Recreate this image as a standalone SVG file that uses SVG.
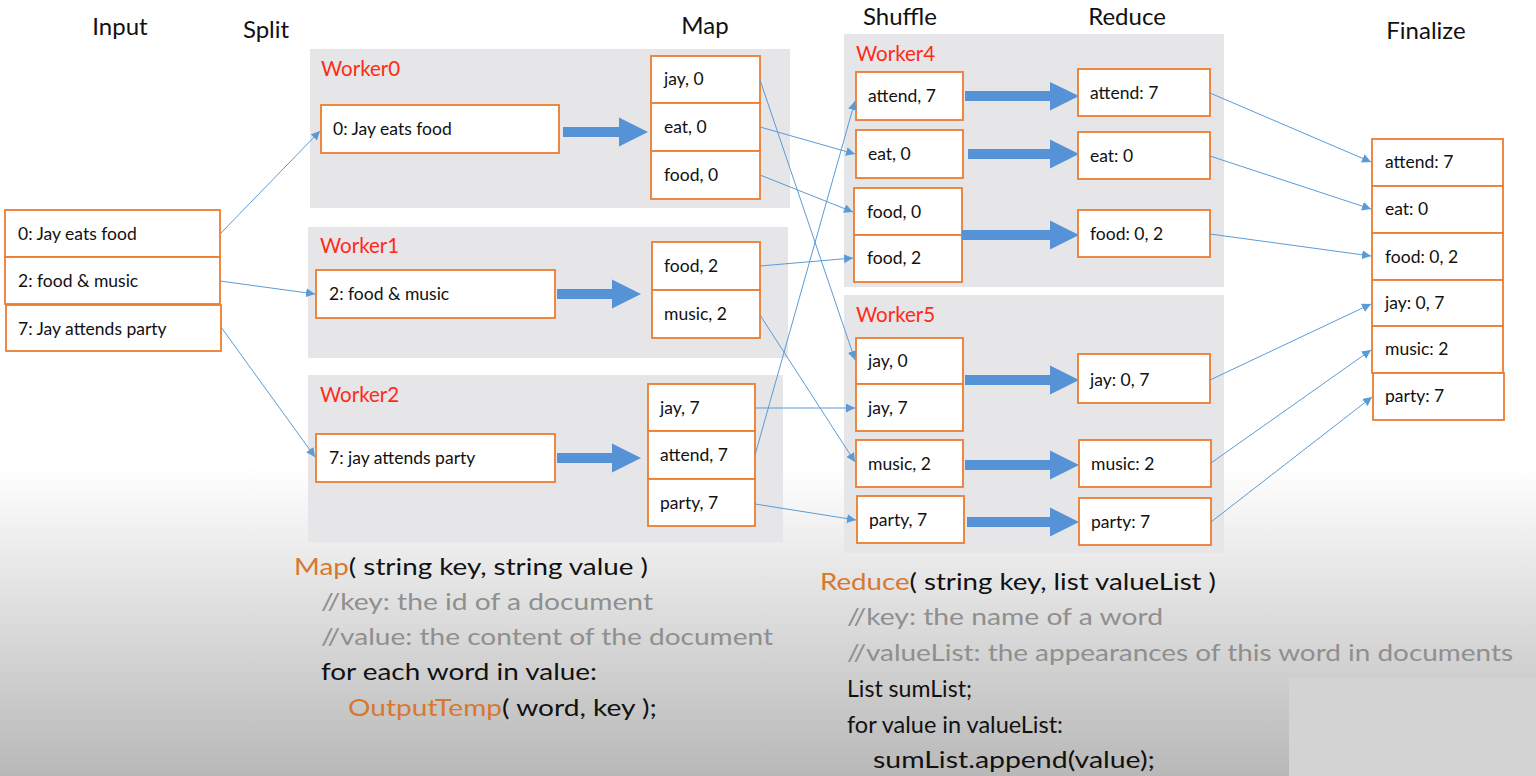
<svg xmlns="http://www.w3.org/2000/svg" width="1536" height="776" viewBox="0 0 1536 776">
<defs>
<linearGradient id="bg" x1="0" y1="0" x2="0" y2="1">
<stop offset="0" stop-color="#ffffff"/>
<stop offset="0.6" stop-color="#ffffff"/>
<stop offset="1" stop-color="#b8b8b8"/>
</linearGradient>
<marker id="ah" viewBox="0 0 10 10" refX="10" refY="5" markerWidth="9" markerHeight="9" markerUnits="userSpaceOnUse" orient="auto">
<path d="M0,0 L10,5 L0,10 z" fill="#5b9bd5"/>
</marker>
<style>
.title{font-family:Lato,"Open Sans",sans-serif;font-size:24px;fill:#111;text-anchor:middle}
.wk{font-family:Lato,"Open Sans",sans-serif;font-size:20.5px;fill:#ff2a17}
.panel{fill:#e6e5e8}
.box{fill:#ffffff;stroke:#ed7d31;stroke-width:1.8}
.bt{font-family:Lato,"Open Sans",sans-serif;font-size:17.5px;fill:#111}
.big{fill:#5592d6}
.thin{stroke:#5b9bd5;stroke-width:1;fill:none;marker-end:url(#ah)}
.code{font-family:Lato,"Open Sans",sans-serif;font-size:24px;fill:#111}
.kw{fill:#d8782f}
.cm{fill:#8f8f8f}
</style>
</defs>
<rect width="1536" height="776" fill="url(#bg)"/>
<rect x="1289" y="678" width="247" height="98" fill="#d3d3d3"/>

<g id="titles">
<text class="title" x="120" y="35">Input</text>
<text class="title" x="266" y="38">Split</text>
<text class="title" x="705" y="34">Map</text>
<text class="title" x="900" y="25">Shuffle</text>
<text class="title" x="1127" y="25">Reduce</text>
<text class="title" x="1426" y="39">Finalize</text>
</g>

<g id="input">
<rect class="box" x="5" y="210" width="215" height="47"/>
<text class="bt" x="18" y="240">0: Jay eats food</text>
<rect class="box" x="5" y="257" width="215" height="47"/>
<text class="bt" x="18" y="287">2: food &amp; music</text>
<rect class="box" x="6" y="305" width="215" height="46"/>
<text class="bt" x="18" y="335">7: Jay attends party</text>
</g>

<g id="worker0">
<rect class="panel" x="310" y="49" width="480" height="159"/>
<text class="wk" x="321" y="76">Worker0</text>
<rect class="box" x="321" y="105" width="238" height="48"/>
<text class="bt" x="333" y="135">0: Jay eats food</text>
<polygon class="big" points="563,127 619,127 619,117.5 648,132 619,146.5 619,137 563,137"/>
<rect class="box" x="651" y="56" width="109" height="47"/>
<text class="bt" x="664" y="85">jay, 0</text>
<rect class="box" x="651" y="103" width="109" height="48"/>
<text class="bt" x="664" y="133">eat, 0</text>
<rect class="box" x="651" y="151" width="109" height="48"/>
<text class="bt" x="664" y="181">food, 0</text>
</g>

<g id="worker1">
<rect class="panel" x="308" y="227" width="480" height="131"/>
<text class="wk" x="320" y="253">Worker1</text>
<rect class="box" x="316" y="270" width="239" height="48"/>
<text class="bt" x="329" y="300">2: food &amp; music</text>
<polygon class="big" points="557,289 612,289 612,279.5 641,294 612,308.5 612,299 557,299"/>
<rect class="box" x="652" y="242" width="108" height="48"/>
<text class="bt" x="664" y="272">food, 2</text>
<rect class="box" x="652" y="290" width="108" height="48"/>
<text class="bt" x="664" y="320">music, 2</text>
</g>

<g id="worker2">
<rect class="panel" x="308" y="375" width="475" height="167"/>
<text class="wk" x="320" y="402">Worker2</text>
<rect class="box" x="316" y="434" width="239" height="48"/>
<text class="bt" x="329" y="464">7: jay attends party</text>
<polygon class="big" points="557,453 612,453 612,443.5 641,458 612,472.5 612,463 557,463"/>
<rect class="box" x="648" y="384" width="107" height="47"/>
<text class="bt" x="660" y="414">jay, 7</text>
<rect class="box" x="648" y="431" width="107" height="48"/>
<text class="bt" x="660" y="461">attend, 7</text>
<rect class="box" x="648" y="479" width="107" height="47"/>
<text class="bt" x="660" y="509">party, 7</text>
</g>

<g id="worker4">
<rect class="panel" x="844" y="34" width="380" height="253"/>
<text class="wk" x="856" y="61">Worker4</text>
<rect class="box" x="856" y="72" width="107" height="48"/>
<text class="bt" x="868" y="102">attend, 7</text>
<rect class="box" x="856" y="130" width="107" height="48"/>
<text class="bt" x="868" y="160">eat, 0</text>
<rect class="box" x="854" y="188" width="108" height="47"/>
<text class="bt" x="867" y="218">food, 0</text>
<rect class="box" x="854" y="235" width="108" height="47"/>
<text class="bt" x="867" y="264">food, 2</text>
<polygon class="big" points="965,91 1050,91 1050,82 1079,96 1050,110.5 1050,101 965,101"/>
<polygon class="big" points="968,149 1050,149 1050,139.5 1079,154 1050,168.5 1050,159 968,159"/>
<polygon class="big" points="962,230 1050,230 1050,220.5 1079,235 1050,249.5 1050,240 962,240"/>
<rect class="box" x="1078" y="69" width="132" height="47"/>
<text class="bt" x="1090" y="99">attend: 7</text>
<rect class="box" x="1078" y="132" width="132" height="47"/>
<text class="bt" x="1090" y="162">eat: 0</text>
<rect class="box" x="1078" y="210" width="132" height="47"/>
<text class="bt" x="1090" y="240">food: 0, 2</text>
</g>

<g id="worker5">
<rect class="panel" x="844" y="295" width="380" height="258"/>
<text class="wk" x="856" y="322">Worker5</text>
<rect class="box" x="856" y="338" width="107" height="46"/>
<text class="bt" x="868" y="367">jay, 0</text>
<rect class="box" x="856" y="384" width="107" height="47"/>
<text class="bt" x="868" y="414">jay, 7</text>
<rect class="box" x="856" y="440" width="107" height="47"/>
<text class="bt" x="868" y="470">music, 2</text>
<rect class="box" x="857" y="496" width="107" height="47"/>
<text class="bt" x="869" y="526">party, 7</text>
<polygon class="big" points="965,375 1050,375 1050,365.5 1079,380 1050,394.5 1050,385 965,385"/>
<polygon class="big" points="965,460 1050,460 1050,450.5 1079,465 1050,479.5 1050,470 965,470"/>
<polygon class="big" points="967,517 1050,517 1050,507.5 1079,522 1050,536.5 1050,527 967,527"/>
<rect class="box" x="1078" y="354" width="132" height="49"/>
<text class="bt" x="1090" y="386">jay: 0, 7</text>
<rect class="box" x="1079" y="440" width="132" height="47"/>
<text class="bt" x="1091" y="470">music: 2</text>
<rect class="box" x="1079" y="498" width="132" height="47"/>
<text class="bt" x="1091" y="528">party: 7</text>
</g>

<g id="finalize">
<rect class="box" x="1372" y="139" width="131" height="47"/>
<text class="bt" x="1385" y="168">attend: 7</text>
<rect class="box" x="1372" y="186" width="131" height="47"/>
<text class="bt" x="1385" y="215">eat: 0</text>
<rect class="box" x="1372" y="233" width="131" height="47"/>
<text class="bt" x="1385" y="263">food: 0, 2</text>
<rect class="box" x="1372" y="280" width="131" height="46"/>
<text class="bt" x="1385" y="309">jay: 0, 7</text>
<rect class="box" x="1372" y="326" width="131" height="47"/>
<text class="bt" x="1385" y="355">music: 2</text>
<rect class="box" x="1373" y="373" width="131" height="47"/>
<text class="bt" x="1385" y="402">party: 7</text>
</g>

<g id="connectors">
<line class="thin" x1="220" y1="234" x2="320" y2="131"/>
<line class="thin" x1="220" y1="281" x2="315" y2="294"/>
<line class="thin" x1="221" y1="327" x2="315" y2="457"/>
<line class="thin" x1="760" y1="80" x2="855" y2="360"/>
<line class="thin" x1="760" y1="127" x2="855" y2="154"/>
<line class="thin" x1="760" y1="175" x2="853" y2="212"/>
<line class="thin" x1="760" y1="266" x2="853" y2="258"/>
<line class="thin" x1="760" y1="315" x2="855" y2="462"/>
<line class="thin" x1="755" y1="408" x2="855" y2="408"/>
<line class="thin" x1="755" y1="455" x2="855" y2="101"/>
<line class="thin" x1="755" y1="504" x2="856" y2="520"/>
<line class="thin" x1="1210" y1="93" x2="1371" y2="162"/>
<line class="thin" x1="1210" y1="156" x2="1371" y2="209"/>
<line class="thin" x1="1210" y1="234" x2="1371" y2="256"/>
<line class="thin" x1="1210" y1="380" x2="1371" y2="304"/>
<line class="thin" x1="1211" y1="463" x2="1371" y2="350"/>
<line class="thin" x1="1211" y1="522" x2="1372" y2="397"/>
</g>

<g id="map-code">
<text class="code" x="294" y="575" textLength="354" lengthAdjust="spacingAndGlyphs"><tspan class="kw">Map</tspan>( string key, string value )</text>
<text class="code cm" x="321" y="610" textLength="332" lengthAdjust="spacingAndGlyphs">//key: the id of a document</text>
<text class="code cm" x="321" y="645" textLength="452" lengthAdjust="spacingAndGlyphs">//value: the content of the document</text>
<text class="code" x="321" y="680" textLength="276" lengthAdjust="spacingAndGlyphs">for each word in value:</text>
<text class="code" x="348" y="716" textLength="309" lengthAdjust="spacingAndGlyphs"><tspan class="kw">OutputTemp</tspan>( word, key );</text>
</g>

<g id="reduce-code">
<text class="code" x="820" y="590" textLength="396" lengthAdjust="spacingAndGlyphs"><tspan class="kw">Reduce</tspan>( string key, list valueList )</text>
<text class="code cm" x="847" y="625" textLength="316" lengthAdjust="spacingAndGlyphs">//key: the name of a word</text>
<text class="code cm" x="847" y="661" textLength="666" lengthAdjust="spacingAndGlyphs">//valueList: the appearances of this word in documents</text>
<text class="code" x="847" y="697" textLength="125" lengthAdjust="spacingAndGlyphs">List sumList;</text>
<text class="code" x="847" y="733" textLength="216" lengthAdjust="spacingAndGlyphs">for value in valueList:</text>
<text class="code" x="873" y="768" textLength="282" lengthAdjust="spacingAndGlyphs">sumList.append(value);</text>
</g>
</svg>
